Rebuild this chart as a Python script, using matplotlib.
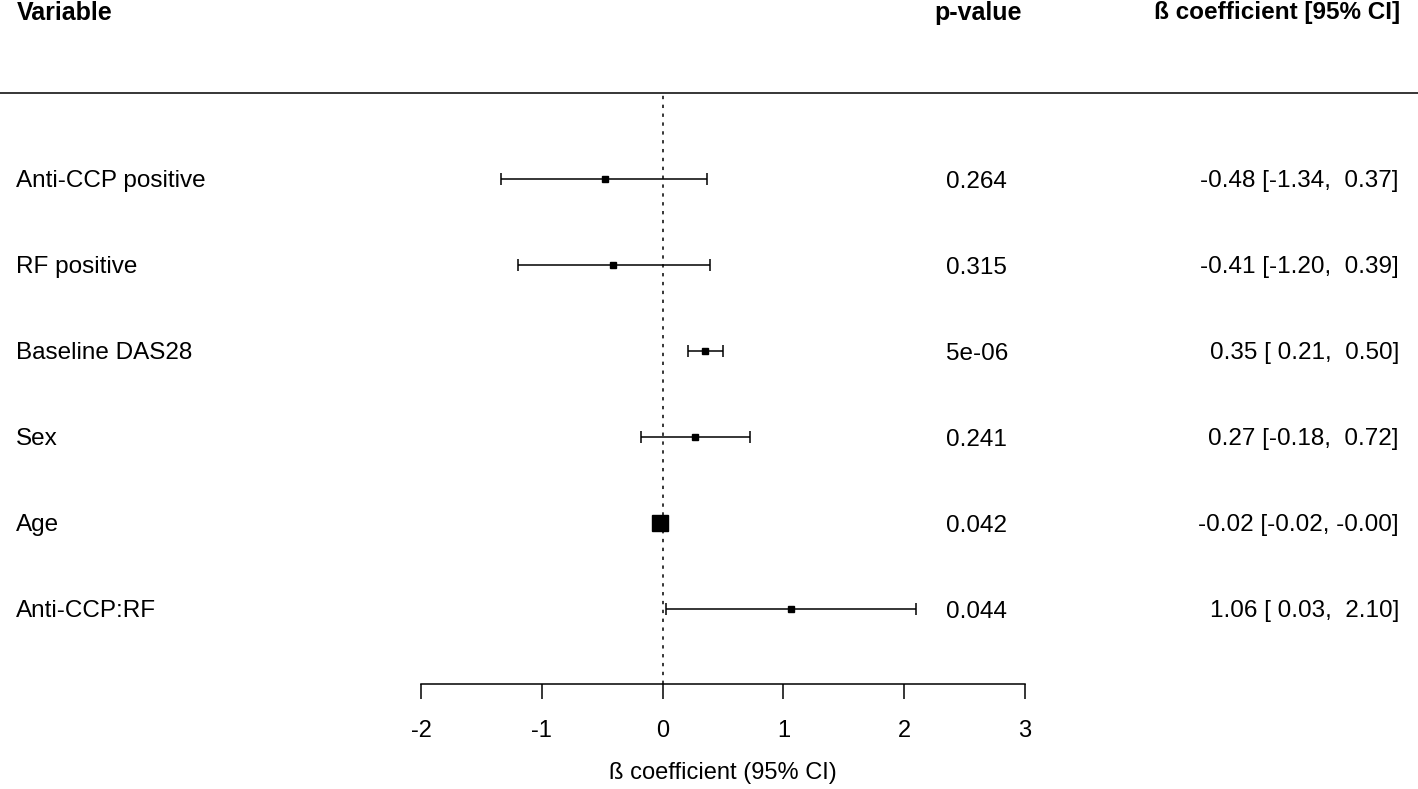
import matplotlib
matplotlib.use("Agg")
import matplotlib.pyplot as plt
import matplotlib.transforms as mtransforms
import numpy as np

plt.rcParams['font.family'] = ['Liberation Sans', 'DejaVu Sans']

# Data
variables = ['Anti-CCP positive', 'RF positive', 'Baseline DAS28', 'Sex', 'Age', 'Anti-CCP:RF']
beta = [-0.48, -0.41, 0.35, 0.27, -0.02, 1.06]
ci_low = [-1.34, -1.20, 0.21, -0.18, -0.02, 0.03]
ci_high = [0.37, 0.39, 0.50, 0.72, -0.00, 2.10]
p_values = ['0.264', '0.315', '5e-06', '0.241', '0.042', '0.044']
ci_labels = ['-0.48 [-1.34,  0.37]', '-0.41 [-1.20,  0.39]', '0.35 [ 0.21,  0.50]',
             '0.27 [-0.18,  0.72]', '-0.02 [-0.02, -0.00]', '1.06 [ 0.03,  2.10]']
x_ticks = [-2, -1, 0, 1, 2, 3]

W, H = 1418, 789


def fx(px):
    return px / W


def fy(py):
    return 1 - py / H


fig = plt.figure(figsize=(W / 100, H / 100), dpi=100)

# plot panel: x from -2 (px 421) to 3 (px 1025), top at the header rule, bottom at the axis
ax = fig.add_axes([fx(421), fy(684), fx(1025) - fx(421), fy(93) - fy(684)])
n = len(variables)
rows = np.arange(1, n + 1)
ax.set_xlim(-2, 3)
ax.set_ylim(n + 0.872, 0)

for s in ['top', 'right', 'left']:
    ax.spines[s].set_visible(False)
ax.spines['bottom'].set_linewidth(1.1)
ax.set_yticks([])
ax.set_xticks(x_ticks)
ax.set_xticklabels([str(t) for t in x_ticks])
ax.tick_params(axis='x', direction='out', length=10.8, width=1.1, pad=15, labelsize=17)

# reference line at zero
ax.axvline(0, color='black', lw=1.1, linestyle=(0, (2.2, 3.6)), zorder=1)

# box size: inversely proportional to CI width, with a minimum
widths = np.array(ci_high) - np.array(ci_low)
widths = np.maximum(widths, 0.02)
sizes = np.clip(11.5 * 0.02 / widths, 4.0, 11.5)

for i in range(n):
    ax.errorbar(beta[i], rows[i], xerr=[[beta[i] - ci_low[i]], [ci_high[i] - beta[i]]],
                fmt='none', ecolor='black', elinewidth=1.1, capsize=4.3, capthick=1.1, zorder=2)
    ax.plot(beta[i], rows[i], marker='s', color='black', markersize=sizes[i],
            linestyle='none', zorder=3)

# header rule across the whole figure
fig.add_artist(plt.Line2D([0, 1], [fy(93), fy(93)], color='black', lw=1.1))

# headers
fig.text(fx(17), fy(13), 'Variable', fontsize=18, fontweight='bold', ha='left', va='center')
fig.text(fx(1022), fy(13), 'p-value', fontsize=18, fontweight='bold', ha='right', va='center')
fig.text(fx(1400), fy(13), 'ß coefficient [95% CI]', fontsize=17.5, fontweight='bold',
         ha='right', va='center')

# text columns: x in figure coords, y in data rows
trans = mtransforms.blended_transform_factory(fig.transFigure, ax.transData)
for i in range(n):
    ax.text(fx(16), rows[i] + 0.02, variables[i], transform=trans,
            fontsize=17.5, ha='left', va='center', clip_on=False)
    ax.text(fx(946), rows[i] + 0.03, p_values[i], transform=trans,
            fontsize=17.5, ha='left', va='center', clip_on=False)
    ax.text(fx(1399), rows[i] + 0.02, ci_labels[i], transform=trans,
            fontsize=17.5, ha='right', va='center', clip_on=False)

# axis title centred under the axis
fig.text(fx(723), fy(773), 'ß coefficient (95% CI)', fontsize=17, ha='center', va='center')

fig.savefig('out.png', dpi=100)
